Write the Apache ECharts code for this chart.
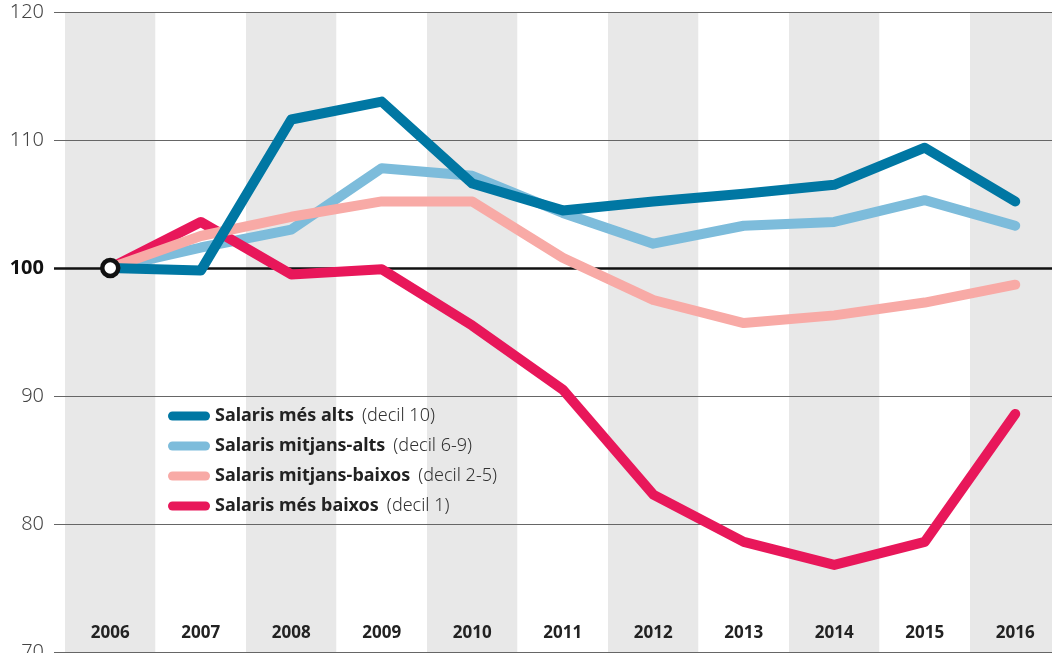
<!DOCTYPE html>
<html>
<head>
<meta charset="utf-8">
<script src="https://cdn.jsdelivr.net/npm/echarts@6/dist/echarts.min.js"></script>
<style>html,body{margin:0;padding:0;background:#fff}#c{width:1052px;height:653px}</style>
</head>
<body>
<div id="c"></div>
<script>
const years = ['2006','2007','2008','2009','2010','2011','2012','2013','2014','2015','2016'];
const seriesNames = ['Salaris més alts','Salaris mitjans-alts','Salaris mitjans-baixos','Salaris més baixos'];
const seriesNotes = ['(decil 10)','(decil 6-9)','(decil 2-5)','(decil 1)'];
const seriesColors = ['#0077a3','#7dbcdb','#f8aaa6','#e8175a'];
const mesAlts     = [100, 99.8, 111.6, 113.0, 106.6, 104.5, 105.2, 105.8, 106.5, 109.4, 105.2];
const mitjansAlts = [100, 101.6, 103.0, 107.8, 107.2, 104.3, 101.9, 103.3, 103.6, 105.3, 103.3];
const mitjansBaixos = [100, 102.5, 104.0, 105.2, 105.2, 100.8, 97.5, 95.7, 96.3, 97.3, 98.7];
const mesBaixos   = [100, 103.6, 99.5, 99.9, 95.5, 90.5, 82.3, 78.6, 76.8, 78.6, 88.6];
const yTicks = [70, 80, 90, 100, 110, 120];
const baseIndex = 0, baseValue = 100;

const dataSets = [mesAlts, mitjansAlts, mitjansBaixos, mesBaixos];
const zOrder = [8, 4, 6, 5];
const FONT = '"Noto Sans", Roboto, sans-serif';

const chart = echarts.init(document.getElementById('c'), null, {renderer: 'canvas'});

const lineSeries = dataSets.map((d, i) => ({
  name: seriesNames[i],
  type: 'line',
  xAxisIndex: 1, yAxisIndex: 1,
  data: d,
  symbol: 'none',
  z: zOrder[i],
  color: seriesColors[i],
  lineStyle: {width: 10, color: seriesColors[i], cap: 'round', join: 'round'},
  emphasis: {disabled: true},
  silent: true,
  animation: false
}));

const option = {
  animation: false,
  grid: [
    {left: 54, right: 0, top: 12, bottom: 1, outerBoundsMode: 'none', containLabel: false},
    {left: 65, width: 995.5, top: 12, bottom: 1, outerBoundsMode: 'none', containLabel: false}
  ],
  xAxis: [
    {gridIndex: 0, type: 'value', min: 0, max: 1, show: false},
    {gridIndex: 1, type: 'category', data: years, boundaryGap: true, z: 0,
     axisLine: {show: false}, axisTick: {show: false},
     splitArea: {show: true, areaStyle: {color: ['#e8e8e8', '#ffffff']}},
     axisLabel: {inside: true, margin: 10, fontFamily: FONT, fontSize: 17, fontWeight: 'bold', color: '#222'}}
  ],
  yAxis: [
    {gridIndex: 0, type: 'value', min: yTicks[0], max: yTicks[yTicks.length-1], interval: 10, z: 1,
     axisLine: {show: false}, axisTick: {show: false},
     splitLine: {show: true, lineStyle: {color: '#666', width: 1}},
     axisLabel: {margin: 10, fontFamily: FONT, fontSize: 20, fontWeight: 300, color: '#444',
       formatter: v => v === 100 ? '{b|100}' : String(v),
       rich: {b: {fontFamily: FONT, fontSize: 20, fontWeight: 'bold', color: '#111'}}}},
    {gridIndex: 1, type: 'value', min: yTicks[0], max: yTicks[yTicks.length-1], show: false}
  ],
  legend: {
    data: seriesNames.map((n, i) => ({name: n, itemStyle: {color: seriesColors[i]}})),
    orient: 'vertical',
    left: 163, top: 402,
    itemWidth: 42, itemHeight: 9, itemGap: 12,
    icon: 'path://M4.5,0 H37.5 A4.5,4.5 0 0 1 37.5,9 H4.5 A4.5,4.5 0 0 1 4.5,0 Z',
    selectedMode: false,
    formatter: name => '{b|' + name + '}{s|}{l|' + seriesNotes[seriesNames.indexOf(name)] + '}',
    textStyle: {
      height: 22,
      rich: {
        b: {fontFamily: FONT, fontSize: 18, fontWeight: 'bold', color: '#222', height: 22},
        s: {width: 8, height: 22},
        l: {fontFamily: FONT, fontSize: 18, fontWeight: 300, color: '#333', height: 22}
      }
    }
  },
  series: [
    {type: 'line', xAxisIndex: 0, yAxisIndex: 0, data: [], z: 1, silent: true,
     markLine: {silent: true, symbol: 'none', label: {show: false},
       lineStyle: {color: '#111', width: 2.5, type: 'solid'},
       data: [{yAxis: baseValue}]}},
    ...lineSeries,
    {type: 'scatter', xAxisIndex: 1, yAxisIndex: 1, z: 20, silent: true,
     data: [[baseIndex, baseValue]], symbol: 'circle', symbolSize: 16,
     itemStyle: {color: '#fff', borderColor: '#111', borderWidth: 4.5, opacity: 1}}
  ]
};
chart.setOption(option);
</script>
</body>
</html>
